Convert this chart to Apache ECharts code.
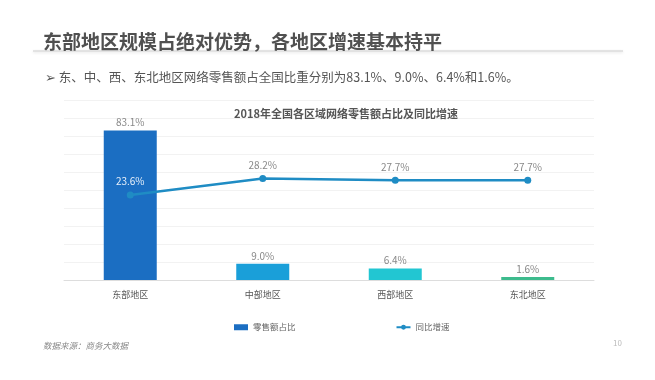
<!DOCTYPE html>
<html>
<head>
<meta charset="utf-8">
<script src="https://cdn.jsdelivr.net/npm/echarts@6/dist/echarts.min.js"></script>
<style>
html,body{margin:0;padding:0;background:#fff;}
#c{width:655px;height:380px;}
</style>
</head>
<body>
<div id="c"></div>
<script>
var categories = ['东部地区', '中部地区', '西部地区', '东北地区'];
var shareValues = [83.1, 9.0, 6.4, 1.6];
var growthValues = [23.6, 28.2, 27.7, 27.7];
var barColors = ['#1b6ec2', '#1a9fd9', '#22c6d2', '#3dbb8d'];
var seriesNames = ['零售额占比', '同比增速'];

var FONT = '"Noto Sans CJK SC", "Microsoft YaHei", sans-serif';
var chart = echarts.init(document.getElementById('c'));
chart.setOption({
  backgroundColor: '#ffffff',
  animation: false,
  textStyle: { fontFamily: FONT },
  title: [
    { text: '东部地区规模占绝对优势，各地区增速基本持平', left: 38, top: 27,
      textStyle: { fontSize: 19, fontWeight: 'bold', color: '#505050', fontFamily: FONT } },
    { text: '➢ 东、中、西、东北地区网络零售额占全国比重分别为83.1%、9.0%、6.4%和1.6%。', left: 40, top: 66,
      textStyle: { fontSize: 12.5, fontWeight: 'normal', color: '#555', fontFamily: FONT } },
    { text: '2018年全国各区域网络零售额占比及同比增速', left: 341, textAlign: 'center', top: 103,
      textStyle: { fontSize: 11, fontWeight: 'bold', color: '#555', fontFamily: FONT } },
    { text: '数据来源：商务大数据', left: 38, top: 337,
      textStyle: { fontSize: 8.5, fontWeight: 'normal', fontStyle: 'italic', color: '#888', fontFamily: FONT } },
    { text: '10', left: 608, top: 334,
      textStyle: { fontSize: 8, fontWeight: 'normal', color: '#bbb', fontFamily: FONT } }
  ],
  graphic: [
    { type: 'line', shape: { x1: 33, y1: 51, x2: 623, y2: 51 },
      style: { stroke: '#dcdcdc', lineWidth: 1.5, shadowBlur: 3, shadowColor: 'rgba(0,0,0,0.12)', shadowOffsetY: 1 } }
  ],
  legend: {
    left: 229, top: 318, itemGap: 100, itemWidth: 14, itemHeight: 6,
    textStyle: { fontSize: 8.5, color: '#666' },
    data: [
      { name: seriesNames[0], icon: 'rect', itemStyle: { color: '#1b6ec2' } },
      { name: seriesNames[1] }
    ]
  },
  grid: { left: 64, right: 61, top: 100, bottom: 100 },
  xAxis: {
    type: 'category', data: categories,
    axisLine: { lineStyle: { color: '#dddddd' } },
    axisTick: { show: false },
    axisLabel: { fontSize: 9, color: '#555', margin: 10 }
  },
  yAxis: [
    { type: 'value', min: 0, max: 100, interval: 10, axisLabel: { show: false },
      axisLine: { show: false }, axisTick: { show: false },
      splitLine: { lineStyle: { color: '#f2f2f2' } } },
    { type: 'value', min: 0, max: 50, interval: 10, show: false, splitLine: { show: false } }
  ],
  series: [
    { name: seriesNames[0], type: 'bar', barWidth: 53, yAxisIndex: 0,
      data: shareValues.map(function (v, i) { return { value: v, itemStyle: { color: barColors[i] } }; }),
      label: { show: true, position: 'top', fontSize: 10, color: '#888', distance: 3,
        formatter: function (p) { return p.value.toFixed(1) + '%'; } } },
    { name: seriesNames[1], type: 'line', yAxisIndex: 1,
      data: growthValues.map(function (v, i) {
        return i === 0 ? { value: v, label: { color: '#e8f0fa' } } : v; }),
      symbol: 'circle', symbolSize: 7,
      lineStyle: { color: '#1f8cc4', width: 2.5 },
      itemStyle: { color: '#1f8cc4' },
      label: { show: true, position: 'top', fontSize: 10, distance: 5, color: '#888',
        formatter: function (p) { return p.value.toFixed(1) + '%'; } },
      emphasis: { disabled: true }
    }
  ]
});
</script>
</body>
</html>
